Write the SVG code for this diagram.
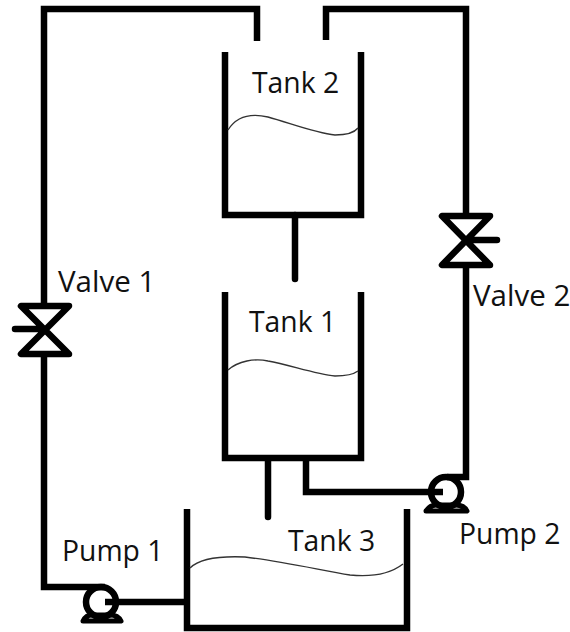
<svg xmlns="http://www.w3.org/2000/svg" width="570" height="632" viewBox="0 0 570 632">
<style>
.p{fill:none;stroke:#000;stroke-width:6.5}
.r{fill:none;stroke:#000;stroke-width:6.5;stroke-linecap:round;stroke-linejoin:round}
.b{fill:none;stroke:#000;stroke-width:5;stroke-linecap:round;stroke-linejoin:round}
.w{fill:none;stroke:#333;stroke-width:1.4}
text{font-family:"Open Sans","Noto Sans",sans-serif;font-size:28.3px;fill:#111}
.v{font-size:29.5px}
</style>
<rect width="570" height="632" fill="#fff"/>
<g id="connectors">
<path class="p" d="M257 41V9H44V306"/>
<path class="p" d="M326 40V9H466V216"/>
<path class="p" d="M466 265V477H447"/>
<path class="p" d="M44 354V587H105"/>
<path class="p" d="M105 602H187"/>
<path class="p" d="M306 460V492H443"/>
<path class="r" d="M295 215V279"/>
<path class="r" d="M268 460V517"/>
</g>
<g id="tank2">
<path class="p" d="M225 52V215H361V52"/>
<path class="w" d="M228 130C238 114 255 114 268 117C290 123 315 133 335 135C346 135 354 133 358 128"/>
<text x="252" y="93">Tank 2</text>
</g>
<g id="tank1">
<path class="p" d="M225 292V458H361V292"/>
<path class="w" d="M228 370C238 361 255 358 268 361C290 365 315 374 335 376C346 376 354 374 358 371"/>
<text x="249" y="332">Tank 1</text>
</g>
<g id="tank3">
<path class="p" d="M187 509V628H407V509"/>
<path class="w" d="M190 568C200 558 222 556 245 557C280 561 320 570 350 575C370 577 390 574 403 564"/>
<text x="288" y="551">Tank 3</text>
</g>
<g id="valve1">
<path class="r" d="M21 306H69L21 354H69ZM15 329H44"/>
<text class="v" x="58" y="292">Valve 1</text>
</g>
<g id="valve2">
<path class="r" d="M442 216H490L442 265H490ZM466 240H497"/>
<text class="v" x="473" y="306">Valve 2</text>
</g>
<g id="pump1">
<circle class="p" cx="101" cy="602" r="15"/>
<path class="b" d="M83 621Q86 615 92 615H110Q118 615 121 621Z"/>
<text x="62" y="561">Pump 1</text>
</g>
<g id="pump2">
<circle class="p" cx="446" cy="492" r="15"/>
<path class="b" d="M426 511Q430 505 436 505H456Q464 505 467 511Z"/>
<text x="459" y="544">Pump 2</text>
</g>
</svg>
